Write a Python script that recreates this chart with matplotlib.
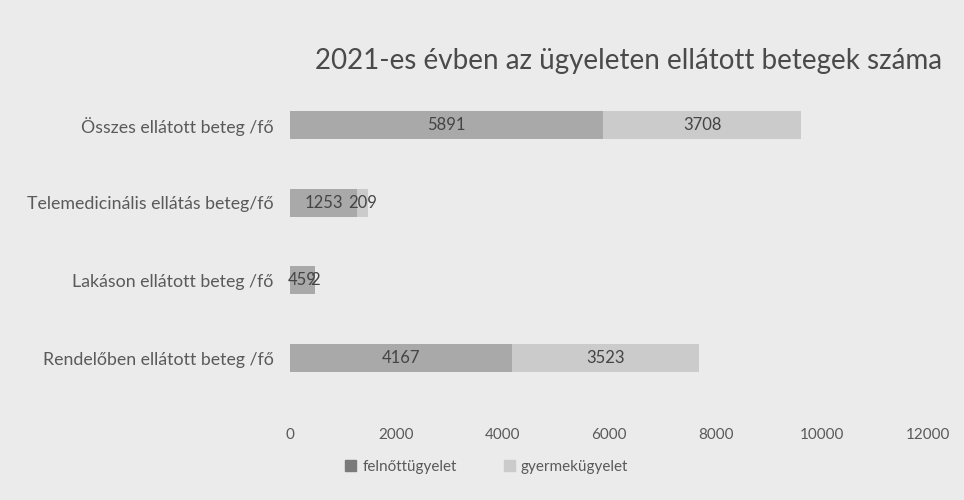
import matplotlib
matplotlib.use("Agg")
import matplotlib.pyplot as plt
from matplotlib.patches import Patch

plt.rcParams['font.family'] = ['Lato', 'DejaVu Sans']

categories = ["Rendelőben ellátott beteg /fő", "Lakáson ellátott beteg /fő",
              "Telemedicinális ellátás beteg/fő", "Összes ellátott beteg /fő"]
felnott = [4167, 459, 1253, 5891]
gyermek = [3523, 2, 209, 3708]
series_names = ["felnőttügyelet", "gyermekügyelet"]
xticks = [0, 2000, 4000, 6000, 8000, 10000, 12000]
title = "2021-es évben az ügyeleten ellátott betegek száma"

bg = "#ebebeb"
c1 = "#a9a9a9"
c2 = "#cbcbcb"
txt = "#5a5a5a"

fig = plt.figure(figsize=(9.64, 5.0), dpi=100, facecolor=bg)
ax = fig.add_axes([0.301, 0.206, 0.662, 0.622], facecolor=bg)

y = list(range(len(categories)))
h = 0.36
b1 = ax.barh(y, felnott, height=h, color=c1)
b2 = ax.barh(y, gyermek, left=felnott, height=h, color=c2)
ax.bar_label(b1, labels=[str(v) for v in felnott], label_type='center', fontsize=12, color="#444444")
ax.bar_label(b2, labels=[str(v) for v in gyermek], label_type='center', fontsize=12, color="#444444")

ax.set_xlim(0, 12000)
ax.set_ylim(-0.5, len(categories) - 0.5)
ax.set_xticks(xticks)
ax.set_xticklabels([str(v) for v in xticks], color=txt, fontsize=11)
ax.set_yticks(y)
ax.set_yticklabels(categories, color=txt, fontsize=12.8)
ax.tick_params(axis='x', length=0, pad=22)
ax.tick_params(axis='y', length=0, pad=12)
for s in ax.spines.values():
    s.set_visible(False)

fig.text(0.652, 0.878, title, ha='center', va='center', fontsize=20, color="#4a4a4a")

handles = [Patch(color="#7a7a7a"), Patch(color=c2)]
fig.legend(handles, series_names, loc='center', bbox_to_anchor=(0.505, 0.066), ncol=2,
           frameon=False, fontsize=11, labelcolor=txt, handlelength=0.7, handleheight=0.7,
           handletextpad=0.4, columnspacing=3.1)

fig.savefig("out.png", dpi=100, facecolor=bg)
